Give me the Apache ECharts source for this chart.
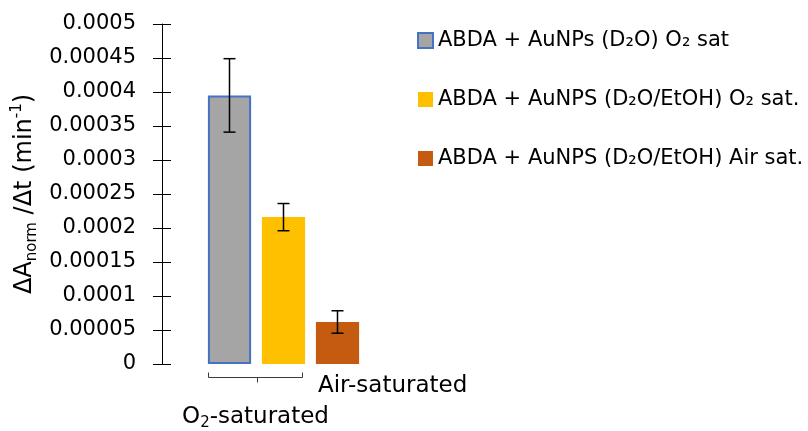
<!DOCTYPE html>
<html><head><meta charset="utf-8">
<script src="https://cdn.jsdelivr.net/npm/echarts@6/dist/echarts.min.js"></script>
<style>html,body{margin:0;padding:0;background:#fff}#c{width:808px;height:431px}</style>
</head><body><div id="c"></div>
<script>
const categories = ['O2-gray', 'O2-yellow', 'Air-orange'];
const seriesNames = ['ABDA + AuNPs (D₂O) O₂ sat', 'ABDA + AuNPS (D₂O/EtOH) O₂ sat.', 'ABDA + AuNPS (D₂O/EtOH) Air sat.'];
const values = [0.000395, 0.000216, 0.0000618];
const errors = [0.000054, 0.00002, 0.0000165];
const colors = ['#A5A5A5', '#FFC000', '#C55A11'];
const yMin = 0, yMax = 0.0005, yStep = 0.00005;

const FONT = 'DejaVu Sans';
const chart = echarts.init(document.getElementById('c'), null, {renderer: 'canvas'});

const barSeries = seriesNames.map((name, i) => ({
  name: name,
  type: 'bar',
  stack: 'all',
  barWidth: '80%',
  data: categories.map((c, j) => j === i ? values[i] : '-'),
  itemStyle: i === 0 ? {color: colors[i], borderColor: '#4472C4', borderWidth: 2} : {color: colors[i]},
  z: 2
}));

const errSeries = {
  type: 'custom',
  name: 'err',
  data: values.map((v, i) => [i, v, errors[i]]),
  encode: {x: 0, y: 1},
  z: 5,
  renderItem: function (params, api) {
    const x = api.value(0), v = api.value(1), e = api.value(2);
    const hi = api.coord([x, v + e]);
    const lo = api.coord([x, v - e]);
    const cw = 6;
    const st = {stroke: '#000', lineWidth: 1.5};
    return {type: 'group', children: [
      {type: 'line', shape: {x1: hi[0], y1: hi[1], x2: lo[0], y2: lo[1]}, style: st},
      {type: 'line', shape: {x1: hi[0] - cw, y1: hi[1], x2: hi[0] + cw, y2: hi[1]}, style: st},
      {type: 'line', shape: {x1: lo[0] - cw, y1: lo[1], x2: lo[0] + cw, y2: lo[1]}, style: st}
    ]};
  }
};

const fmt = v => String(Number(v.toFixed(6)));

chart.setOption({
  animation: false,
  backgroundColor: '#fff',
  grid: {left: 202.5, width: 162, top: 24, height: 340},
  legend: {
    orient: 'vertical',
    left: 412, top: 25,
    itemWidth: 15, itemHeight: 15, itemGap: 38,
    icon: 'rect',
    data: seriesNames,
    textStyle: {fontFamily: FONT, fontSize: 21, lineHeight: 21, color: '#000'}
  },
  xAxis: {
    type: 'category', data: categories,
    axisLine: {show: false}, axisTick: {show: false}, axisLabel: {show: false}
  },
  yAxis: [{
    type: 'value', position: 'left', offset: 40.5,
    min: yMin, max: yMax, interval: yStep,
    splitLine: {show: false},
    axisLine: {show: true, lineStyle: {color: '#000', width: 1}},
    axisTick: {show: true, length: 9, lineStyle: {color: '#000', width: 1}},
    axisLabel: {margin: 26, fontFamily: FONT, fontSize: 21, color: '#000', formatter: fmt},
    name: '{m|ΔA}{s|norm}{m| /Δt (min}{p|-1}{m|)}',
    nameLocation: 'middle', nameRotate: 90, nameGap: 122,
    nameTextStyle: {
      fontFamily: FONT, fontSize: 24, color: '#000', lineHeight: 30,
      rich: {
        m: {fontFamily: FONT, fontSize: 24, color: '#000', lineHeight: 30},
        s: {fontFamily: FONT, fontSize: 15, color: '#000', lineHeight: 16, verticalAlign: 'bottom'},
        p: {fontFamily: FONT, fontSize: 15, color: '#000', lineHeight: 16, verticalAlign: 'top'}
      }
    }
  }, {
    type: 'value', position: 'left', offset: 40.5,
    min: yMin, max: yMax, interval: yStep,
    splitLine: {show: false},
    axisLine: {show: false},
    axisTick: {show: true, inside: true, length: 9, lineStyle: {color: '#000', width: 1}},
    axisLabel: {show: false}
  }],
  series: barSeries.concat([errSeries])
});

// multi-level category decoration, positioned from the axes
const c0 = chart.convertToPixel({xAxisIndex: 0}, 0);
const c1 = chart.convertToPixel({xAxisIndex: 0}, 1);
const c2 = chart.convertToPixel({xAxisIndex: 0}, 2);
const band = c1 - c0;
const bw = band * 0.8;
const yBase = chart.convertToPixel({yAxisIndex: 0}, 0);
const bL = Math.round(c0 - bw / 2) + 0.5, bR = Math.round(c1 + bw / 2 - 3) + 0.5;
const bY = Math.round(yBase + 13) + 0.5;
const midX = Math.round((c0 + c1) / 2) + 0.5;
const bst = {stroke: '#3a3a3a', lineWidth: 1};

chart.setOption({
  graphic: [
    {type: 'polyline', shape: {points: [[bL, bY - 5], [bL, bY], [bR, bY], [bR, bY - 5]]}, style: Object.assign({fill: null}, bst)},
    {type: 'line', shape: {x1: midX, y1: bY, x2: midX, y2: bY + 5}, style: bst},
    {type: 'text', x: c2 - bw / 2 + 2, y: yBase + 22,
     style: {text: 'Air-saturated', font: '23px "DejaVu Sans"', fill: '#000', align: 'left', verticalAlign: 'middle'}},
    {type: 'text', x: (bL + bR) / 2, y: yBase + 53,
     style: {text: '{a|O}{b|2}{a|-saturated}', align: 'center', verticalAlign: 'middle',
       rich: {
         a: {fontFamily: FONT, fontSize: 23, fill: '#000', lineHeight: 28},
         b: {fontFamily: FONT, fontSize: 15, fill: '#000', lineHeight: 16, verticalAlign: 'bottom'}
       }}}
  ]
});
</script>
</body></html>
